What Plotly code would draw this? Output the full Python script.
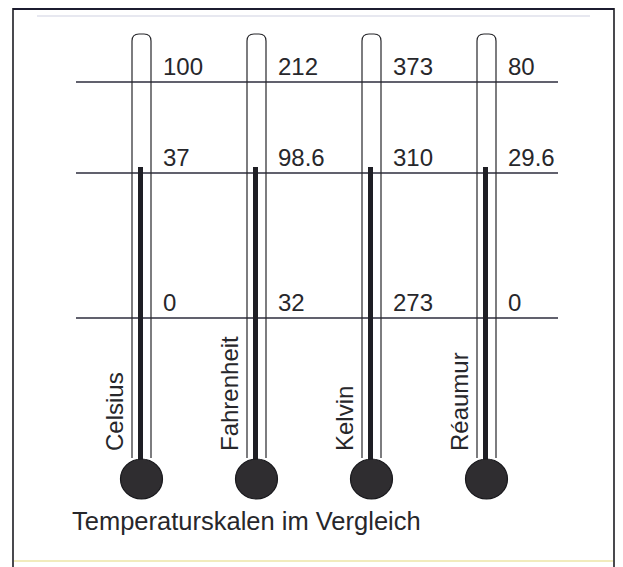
import plotly.graph_objects as go

# ---- data ----
scales = ["Celsius", "Fahrenheit", "Kelvin", "Réaumur"]
boiling_labels = ["100", "212", "373", "80"]
body_labels = ["37", "98.6", "310", "29.6"]
freezing_labels = ["0", "32", "273", "0"]
caption = "Temperaturskalen im Vergleich"

# ---- layout geometry (diagram units = page pixels) ----
W, H = 623, 567
PAGE_MARGIN = 8  # default body margin of the html page
tube_x0, tube_step, tube_half = 141.5, 115.0, 9.5
tube_top, tube_bottom = 34, 458
level_y = [82, 173, 318]          # boiling / body / freezing reference lines
line_x = (76, 558)
bulb_y, bulb_r = 479, 21
mercury_top = 167

INK = "#27272b"
LINE = "#2c2c3c"
FONT = "Liberation Sans, Arial, sans-serif"

fig = go.Figure()
shapes = []
annotations = []

# frame
shapes.append(dict(type="line", x0=13, x1=614, y0=9, y1=9, line=dict(color="#1c1c30", width=2.2)))
shapes.append(dict(type="line", x0=13, x1=13, y0=8, y1=567, line=dict(color="#1c1c22", width=1.6)))
shapes.append(dict(type="line", x0=614, x1=614, y0=8, y1=567, line=dict(color="#1c1c22", width=1.6)))
shapes.append(dict(type="line", x0=14, x1=613, y0=561, y1=561, line=dict(color="#f1ebbd", width=2)))
shapes.append(dict(type="line", x0=37, x1=590, y0=16, y1=16, line=dict(color="#cfd1e2", width=1.2)))

# reference lines
for ly in level_y:
    shapes.append(dict(type="line", x0=line_x[0], x1=line_x[1], y0=ly, y1=ly,
                       line=dict(color=LINE, width=1.5), layer="below"))

level_labels = [boiling_labels, body_labels, freezing_labels]

for i, name in enumerate(scales):
    cx = tube_x0 + i * tube_step
    L, R = cx - tube_half, cx + tube_half
    r = 7
    path = (f"M {L},{tube_bottom} L {L},{tube_top + r} Q {L},{tube_top} {L + r},{tube_top} "
            f"L {R - r},{tube_top} Q {R},{tube_top} {R},{tube_top + r} L {R},{tube_bottom}")
    shapes.append(dict(type="path", path=path, line=dict(color=INK, width=1.2)))
    # mercury column
    shapes.append(dict(type="line", x0=cx - 1, x1=cx - 1, y0=mercury_top, y1=bulb_y,
                       line=dict(color="#1e1e24", width=5)))
    # bulb
    shapes.append(dict(type="circle", x0=cx - bulb_r, x1=cx + bulb_r,
                       y0=bulb_y - bulb_r + 1, y1=bulb_y + bulb_r - 1,
                       fillcolor="#2f2d30", line=dict(color="#18181c", width=1.2)))
    # scale values
    for ly, labels in zip(level_y, level_labels):
        annotations.append(dict(x=cx + 19, y=ly - 16, text=labels[i], showarrow=False,
                                xanchor="left", yanchor="middle",
                                font=dict(family=FONT, size=24, color=INK)))
    # scale name, vertical
    annotations.append(dict(x=cx - 27, y=453, text=name, textangle=-90, showarrow=False,
                            xanchor="center", yanchor="bottom",
                            font=dict(family=FONT, size=24, color=INK)))

annotations.append(dict(x=70, y=521, text=caption, showarrow=False, xanchor="left",
                        yanchor="middle", font=dict(family=FONT, size=25.5, color=INK)))

fig.update_layout(
    width=W - PAGE_MARGIN, height=H - PAGE_MARGIN, margin=dict(l=0, r=0, t=0, b=0),
    paper_bgcolor="white", plot_bgcolor="white",
    xaxis=dict(range=[PAGE_MARGIN, W], visible=False, fixedrange=True),
    yaxis=dict(range=[H, PAGE_MARGIN], visible=False, fixedrange=True),
    shapes=shapes, annotations=annotations, showlegend=False,
)

fig.write_html("out.html")
